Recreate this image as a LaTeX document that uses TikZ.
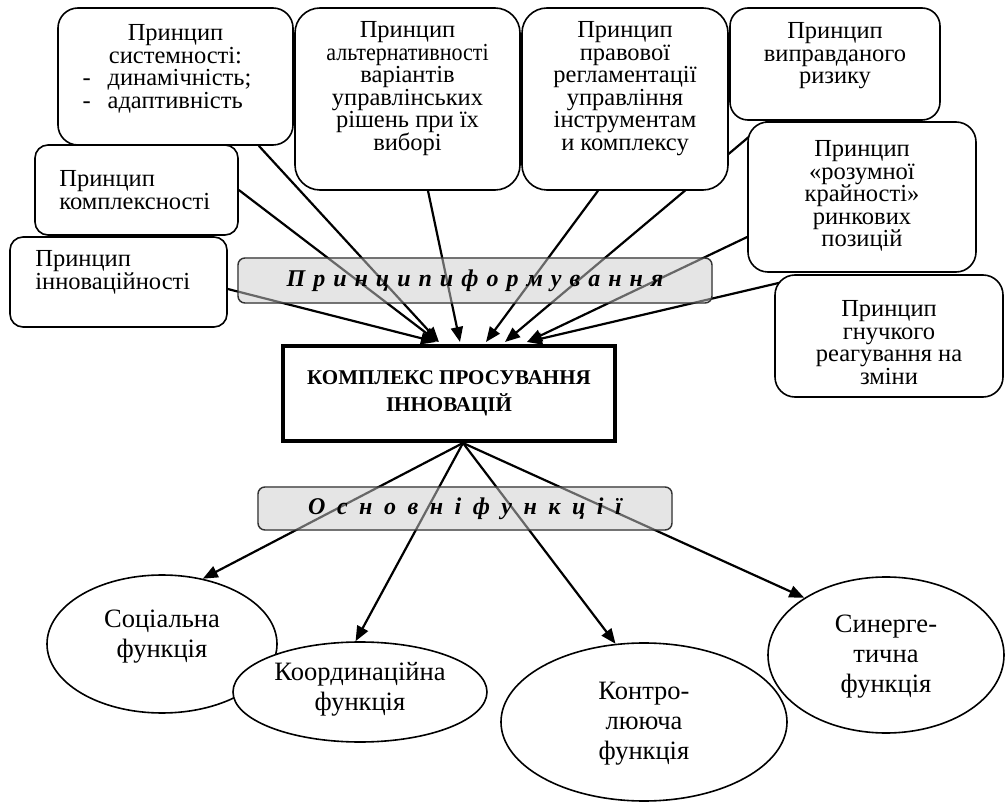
\documentclass[tikz,border=0pt]{standalone}
\usepackage{fontspec}
\usepackage{graphicx}
\setmainfont{Liberation Serif}
\usetikzlibrary{arrows.meta,calc,shapes.geometric}
\pgfdeclarelayer{back}
\pgfdeclarelayer{mid}
\pgfsetlayers{back,mid,main}
\newcommand\ls{\hspace{8pt}}
\newcommand\lsb{\hspace{11.5pt}}
\newcommand\tightlines{\lineskiplimit=-20pt\relax}
\newcommand\boxfont{\fontsize{24.5}{22.6}\selectfont\tightlines}
\begin{document}
\begin{tikzpicture}[x=1pt,y=-1pt,
  pbox/.style={draw, line width=1.6pt, fill=white, rounded corners=#1, inner sep=0pt},
  pbox/.default=20pt,
  ptext/.style={font=\boxfont, align=center, inner sep=0pt},
  arr/.style={line width=2.2pt, -{Triangle[length=15pt,width=12pt]}},
  banner/.style={draw=black!80, line width=1.4pt, fill=black!10, fill opacity=0.45, text opacity=1, rounded corners=7pt, inner sep=0pt, font=\fontsize{24}{26}\selectfont\bfseries\itshape},
  bannerfill/.style={fill=black!10, rounded corners=7pt},
  fn/.style={draw, ellipse, line width=1.6pt, fill=white, inner sep=0pt},
  ftext/.style={inner sep=0pt, align=center, font=\fontsize{26.5}{30}\selectfont},
  core/.style={draw, line width=4pt, fill=white, align=center, inner sep=0pt, font=\fontsize{21}{27}\selectfont\bfseries},
]
\useasboundingbox (0,0) rectangle (1005,802);

% principle boxes
\node[pbox=20pt, minimum width=235pt, minimum height=137pt] (sys) at (175.5,76.5) {};
\node[pbox=13pt, minimum width=203pt, minimum height=90pt] (kom) at (136.5,190) {};
\node[pbox=13pt, minimum width=217pt, minimum height=90pt] (inn) at (118.5,282) {};
\node[pbox=25pt, minimum width=225pt, minimum height=182pt] (alt) at (407.5,99) {};
\node[pbox=25pt, minimum width=206pt, minimum height=182pt] (prav) at (625,99) {};
\node[pbox=18pt, minimum width=210pt, minimum height=112pt] (vyp) at (835,64) {};
\node[pbox=20pt, minimum width=228pt, minimum height=150pt] (roz) at (862,197) {};
\node[pbox=20pt, minimum width=228pt, minimum height=122pt] (hn) at (889,336) {};

\node[ptext, anchor=north] (tsys) at ($(sys.north)+(0,17)$)
  {Принцип\\системності:\\\makebox[186pt][l]{-\hspace{17pt}динамічність;}\\\makebox[186pt][l]{-\hspace{17pt}адаптивність}};
\node[ptext, anchor=north west, align=left] (tkom) at ($(kom.north west)+(25,26)$) {Принцип\\комплексності};
\node[ptext, anchor=north west, align=left] (tinn) at ($(inn.north west)+(26,14)$) {Принцип\\інноваційності};
\node[ptext, anchor=north] (talt) at ($(alt.north)+(0,14)$)
  {Принцип\\\scalebox{0.9}[1]{альтернативності}\\варіантів\\управлінських\\рішень при їх\\виборі};
\node[ptext, anchor=north] (tprav) at ($(prav.north)+(0,14)$)
  {Принцип\\правової\\регламентації\\управління\\інструментам\\и комплексу};
\node[ptext, anchor=north] (tvyp) at ($(vyp.north)+(0,15)$) {Принцип\\виправданого\\ризику};
\node[ptext, anchor=north] (troz) at ($(roz.north)+(0,19)$) {Принцип\\«розумної\\крайності»\\ринкових\\позицій};
\node[ptext, anchor=north] (thn) at ($(hn.north)+(0,26)$) {Принцип\\гнучкого\\реагування на\\зміни};

% banners
\node[banner, minimum width=474pt, minimum height=45pt] (banA) at (475,280.5)
  {П\ls р\ls и\ls н\ls ц\ls и\ls п\ls и\ls ф\ls о\ls р\ls м\ls у\ls в\ls а\ls н\ls н\ls я};
\node[banner, minimum width=414pt, minimum height=43pt] (banB) at (465,508.5)
  {О\lsb с\lsb н\lsb о\lsb в\lsb н\lsb і\lsb ф\lsb у\lsb н\lsb к\lsb ц\lsb і\lsb ї};

% core
\node[core, minimum width=332pt, minimum height=95pt] (cb) at (449,393.5)
  {КОМПЛЕКС ПРОСУВАННЯ\\ІННОВАЦІЙ};

% functions
\node[fn, minimum width=230pt, minimum height=138pt] (soc) at (162,644) {};
\node[ftext] (tsoc) at ($(soc.center)+(0,-7)$) {Соціальна\\функція};
\node[fn, minimum width=254pt, minimum height=100pt] (koo) at (360,692) {};
\node[ftext] (tkoo) at ($(koo.center)+(0,-3)$) {Координаційна\\функція};
\node[fn, minimum width=286pt, minimum height=158pt] (kon) at (644,722) {};
\node[ftext] (tkon) at ($(kon.center)+(0,2)$) {Контро-\\лююча\\функція};
\node[fn, minimum width=236pt, minimum height=156pt] (syn) at (886,655) {};
\node[ftext] (tsyn) at ($(syn.center)+(0,2)$) {Синерге-\\тична\\функція};

\begin{pgfonlayer}{back}
\fill[bannerfill] (banA.north west) rectangle (banA.south east);
\fill[bannerfill] (banB.north west) rectangle (banB.south east);
\end{pgfonlayer}

\begin{pgfonlayer}{mid}
\draw[arr] ($(inn.east)+(0,7)$) -- ($(cb.north west)+(155,-2)$);
\draw[arr] (kom.east) -- ($(cb.north west)+(157,-2)$);
\draw[arr] ($(sys.south east)+(-35,0)$) -- ($(cb.north west)+(158,-2)$);
\draw[arr] ($(alt.south)+(20.5,0)$) -- ($(cb.north west)+(179,-2)$);
\draw[arr] ($(prav.south)+(-27,0)$) -- ($(cb.north west)+(205,-2)$);
\draw[arr] ($(vyp.south)+(-67,0)$) -- ($(cb.north west)+(224,-2)$);
\draw[arr] ($(roz.west)+(0,40)$) -- ($(cb.north west)+(246,-2)$);
\draw[arr] ($(hn.north west)+(12,7)$) -- ($(cb.north west)+(246,-2)$);
\coordinate (cbot) at ($(cb.south west)+(182,0)$);
\draw[arr] (cbot) -- (soc.58);
\draw[arr] (cbot) -- (koo.95);
\draw[arr] (cbot) -- (kon.110);
\draw[arr] (cbot) -- (syn.145);
\end{pgfonlayer}
\end{tikzpicture}
\end{document}
